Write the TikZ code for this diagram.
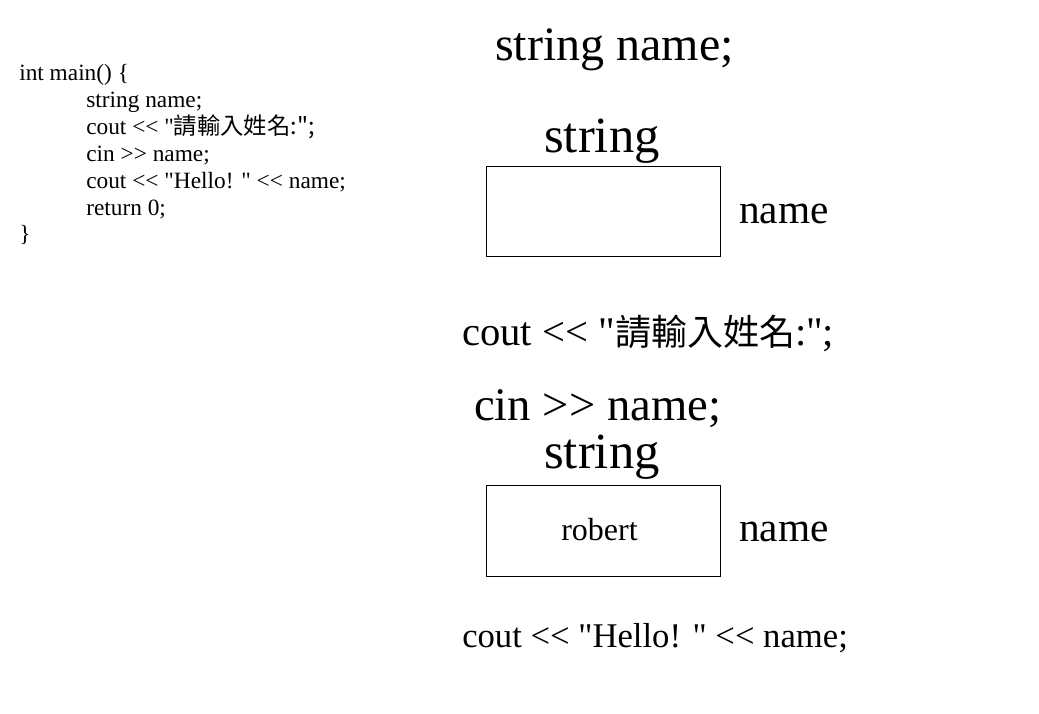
\documentclass[tikz,border=0pt]{standalone}
\usepackage{fontspec}
\newfontfamily\codefont{Liberation Serif}
\newfontfamily\cjk{Noto Sans CJK TC}
\usepackage{tikz}
\usetikzlibrary{positioning}

\begin{document}
\begin{tikzpicture}[
  x=0.75pt, y=-0.75pt,
  txt/.style={font=\codefont\fontsize{#1}{#1}\selectfont, anchor=base west, inner sep=0pt},
  varbox/.style={rectangle, draw=black, line width=0.9pt, minimum width=176pt, minimum height=68pt, inner sep=0pt},
]
\path[use as bounding box, fill=white] (0,0) rectangle (1039,714);
% source code
\node[txt=17.5] (c1) at (19,80) {int main() \{};
\node[txt=17.5] (c2) at (86,107) {string name;};
\node[txt=17.5] (c3) at (86,134) {cout <{}< "\cjk{請輸入姓名}:";};
\node[txt=17.5] (c4) at (86,161) {cin >{}> name;};
\node[txt=17.5] (c5) at (86,188) {cout <{}< "Hello! " <{}< name;};
\node[txt=17.5] (c6) at (86,215) {return 0;};
\node[txt=17.5] (c7) at (19,241) {\}};
% declaration
\node[txt=36] (decl) at (495,60) {string name;};
\node[txt=38] (type1) at (544,152) {string};
\node[varbox] (box1) at (603.5,211.5) {};
\node[txt=31] (name1) at (739,223) {name};
% output and input
\node[txt=30.5] (out1) at (462,345) {cout <{}< "{\cjk\fontsize{27}{27}\selectfont 請輸入姓名}:";};
\node[txt=35] (in1) at (474,420) {cin >{}> name;};
\node[txt=38] (type2) at (544,468) {string};
\node[varbox] (box2) at (603.5,531) {};
\node[txt=24] (val) at (561,540) {robert};
\node[txt=31] (name2) at (739,541) {name};
\node[txt=26] (out2) at (462,647) {cout <{}< "Hello! " <{}< name;};
\end{tikzpicture}
\end{document}
